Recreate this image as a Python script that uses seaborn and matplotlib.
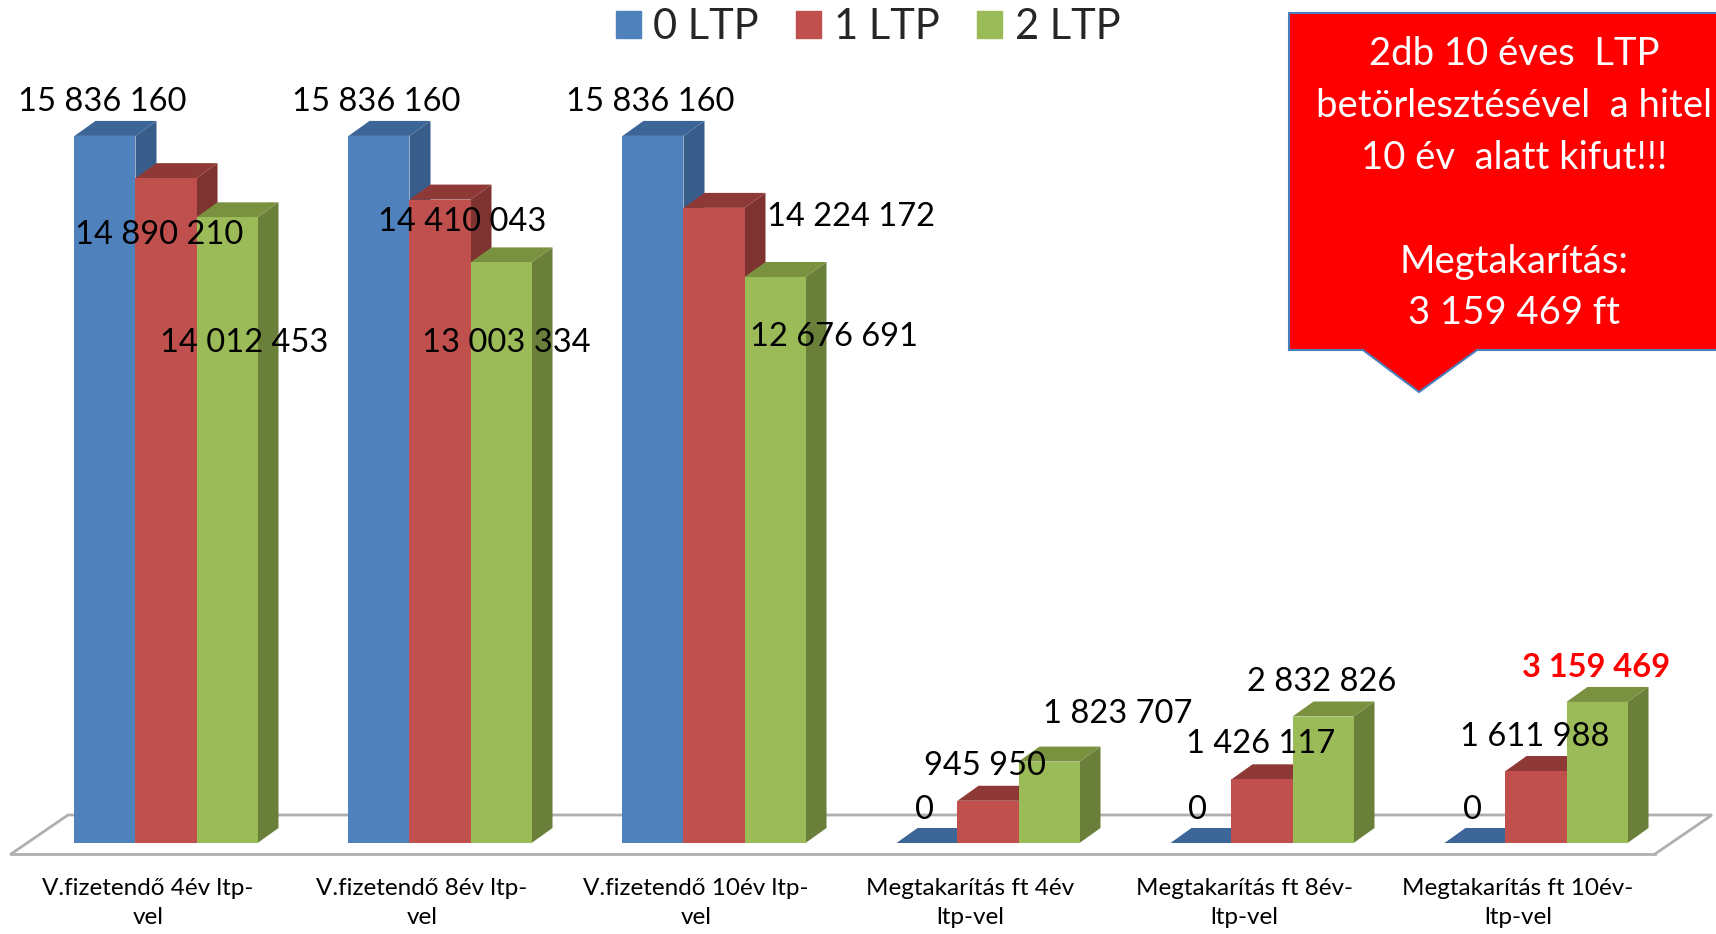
import matplotlib
matplotlib.use("Agg")
import matplotlib.pyplot as plt
import seaborn as sns
import pandas as pd
from matplotlib.patches import Polygon, Patch

# --- data ---
categories = [
    "V.fizetendő 4év ltp-\nvel",
    "V.fizetendő 8év ltp-\nvel",
    "V.fizetendő 10év ltp-\nvel",
    "Megtakarítás ft 4év\nltp-vel",
    "Megtakarítás ft 8év-\nltp-vel",
    "Megtakarítás ft 10év-\nltp-vel",
]
series = ["0 LTP", "1 LTP", "2 LTP"]
ltp0 = [15836160, 15836160, 15836160, 0, 0, 0]
ltp1 = [14890210, 14410043, 14224172, 945950, 1426117, 1611988]
ltp2 = [14012453, 13003334, 12676691, 1823707, 2832826, 3159469]

front_colors = ["#4F81BD", "#C0504D", "#9BBB59"]
top_colors = ["#3C6698", "#8F3936", "#7A9140"]
side_colors = ["#385D8A", "#7F3331", "#6A803A"]

# label nudges in pixels (right, down) from each bar's top centre, as Excel placed them
label_nudge = [
    [(-3, -34), (-7, 57), (17, 126)],
    [(-3, -34), (22, 22), (5, 81)],
    [(-3, -34), (137, 9), (59, 60)],
    [(-2, -33), (-3, -35), (69, -48)],
    [(-3, -33), (-1, -35), (-1, -35)],
    [(-2, -33), (-1, -34), (-1, -34)],
]

# --- layout (pixels) ---
W, H = 1716, 934
AX_L, AX_R, AX_TOP, AX_BOT = 11, 1655, 60, 854
ZERO_PX = 843
PX_PER_VAL = 44.65 / 1e6
X_PX = (AX_R - AX_L) / 6
DEPTH = (21, 15)
FLOOR_DEPTH = (57, 39)

sns.set_style("white")
plt.rcParams["font.family"] = ["Lato", "DejaVu Sans"]

fig = plt.figure(figsize=(W / 100, H / 100), dpi=100)
ax = fig.add_axes([AX_L / W, (H - AX_BOT) / H, (AX_R - AX_L) / W, (AX_BOT - AX_TOP) / H])
ax.patch.set_alpha(0)

df = pd.DataFrame({
    "cat": categories * 3,
    "series": [s for s in series for _ in categories],
    "value": ltp0 + ltp1 + ltp2,
})
sns.barplot(data=df, x="cat", y="value", hue="series", order=categories,
            hue_order=series, palette=front_colors, width=0.668, saturation=1,
            linewidth=0, legend=False, errorbar=None, ax=ax)

ax.set_xlim(-0.5, 5.5)
ax.set_ylim(-(AX_BOT - ZERO_PX) / PX_PER_VAL, (ZERO_PX - AX_TOP) / PX_PER_VAL)


def px_x(p):
    return p / X_PX


def px_y(p):
    return p / PX_PER_VAL


shift = px_x(18)
dx, dy = px_x(DEPTH[0]), px_y(DEPTH[1])

bars = sorted(ax.patches, key=lambda p: p.get_x())
groups = {}
for p in bars:
    p.set_x(p.get_x() + shift)
    p.set_zorder(3)
    c = int(round(p.get_x() + p.get_width() / 2 - shift))
    groups.setdefault(c, []).append(p)

for c in sorted(groups):
    for k, p in enumerate(sorted(groups[c], key=lambda b: b.get_x())):
        x0, x1, h = p.get_x(), p.get_x() + p.get_width(), p.get_height()
        ax.add_patch(Polygon([(x1, 0), (x1 + dx, dy), (x1 + dx, h + dy), (x1, h)],
                             closed=True, fc=side_colors[k], ec="none", zorder=2))
        ax.add_patch(Polygon([(x0, h), (x1, h), (x1 + dx, h + dy), (x0 + dx, h + dy)],
                             closed=True, fc=top_colors[k], ec="none", zorder=2))
        txt = f"{int(round(h)):,}".replace(",", " ")
        nx, ny = label_nudge[c][k]
        special = (c == len(categories) - 1 and k == 2)
        ax.annotate(txt, xy=((x0 + x1) / 2, h), xytext=(nx, -ny),
                    textcoords="offset pixels", ha="center", va="center",
                    fontsize=23.5, color="#FF0000" if special else "black",
                    fontweight="bold" if special else "normal", zorder=5)

# floor outline
y0 = ax.get_ylim()[0]
fdx, fdy = px_x(FLOOR_DEPTH[0]), px_y(FLOOR_DEPTH[1])
floor_x = [-0.5, -0.5 + fdx, 5.5 + fdx, 5.5]
floor_y = [y0, y0 + fdy, y0 + fdy, y0]
ax.plot(floor_x, floor_y, color="#AFAFAF", lw=2, zorder=1, clip_on=False,
        solid_joinstyle="miter")

for s in ["left", "top", "right"]:
    ax.spines[s].set_visible(False)
ax.spines["bottom"].set_color("#AFAFAF")
ax.spines["bottom"].set_linewidth(2)
ax.set_yticks([])
ax.set_xlabel("")
ax.set_ylabel("")
ax.set_xticks(range(len(categories)))
ax.set_xticklabels(categories, fontsize=17.5, linespacing=1.5)
ax.set_xticks([i - 0.5 for i in range(len(categories) + 1)], minor=True)
ax.tick_params(axis="x", which="major", length=0, pad=17, colors="black")
ax.tick_params(axis="x", which="minor", length=8, width=1.5, color="#AFAFAF",
               direction="out")

# legend
handles = [Patch(color=c, label=s) for c, s in zip(front_colors, series)]
fig.legend(handles=handles, loc="upper center", bbox_to_anchor=(868 / W, 1 - 8 / H),
           ncol=3, frameon=False, fontsize=30, handlelength=0.6, handleheight=0.6,
           handletextpad=0.3, columnspacing=0.9, borderaxespad=0, borderpad=0)

# callout box
box = [(1289, 13), (1725, 13), (1725, 350), (1477, 350), (1419, 392), (1363, 350), (1289, 350)]
fig.add_artist(Polygon([(x / W, 1 - y / H) for x, y in box], closed=True,
                       transform=fig.transFigure, fc="#FF0000", ec="#4A7EBB",
                       lw=1.5, zorder=10))
saving = f"{ltp2[-1]:,}".replace(",", " ")
lines = ["2db 10 éves  LTP", "betörlesztésével  a hitel", "10 év  alatt kifut!!!",
         "Megtakarítás:", f"{saving} ft"]
line_y = [54, 106, 158, 262, 313]
for t, yy in zip(lines, line_y):
    fig.text(1514 / W, 1 - yy / H, t, ha="center", va="center", fontsize=27.5,
             color="white", zorder=11)

fig.savefig("out.png", dpi=100)
